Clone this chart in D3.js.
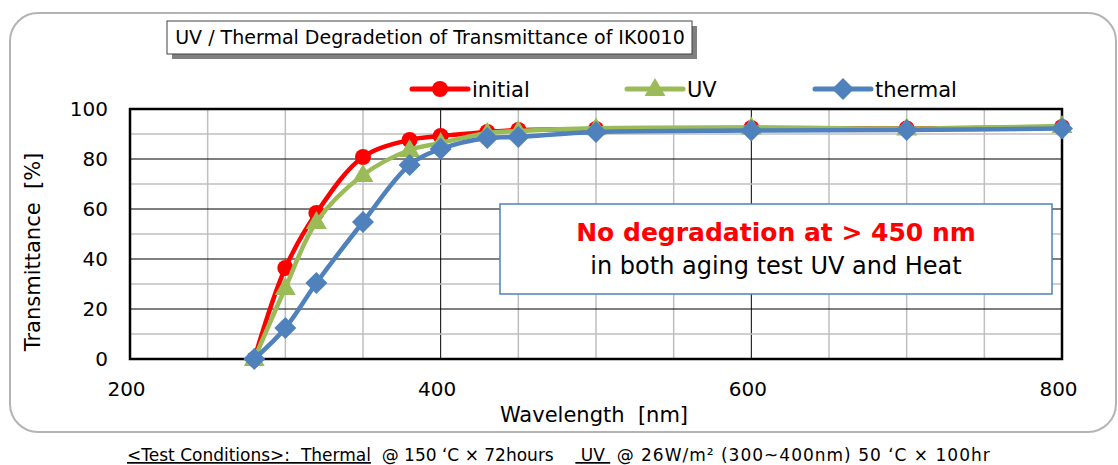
<!DOCTYPE html>
<html lang="en">
<head>
<meta charset="utf-8">
<title>UV / Thermal Degradetion of Transmittance of IK0010</title>
<script src="https://cdn.jsdelivr.net/npm/d3@7"></script>
<style>
  body { margin: 0; background: #fff; }
  text { font-family: "DejaVu Sans", Verdana, sans-serif; }
</style>
</head>
<body>
<script>
// wavelength [nm]
var wavelength = [280, 300, 320, 350, 380, 400, 430, 450, 500, 600, 700, 800];
// transmittance [%]
var initial = [0, 36.4, 58.4, 80.8, 87.6, 89.2, 90.8, 91.6, 92.0, 92.4, 92.2, 92.8];
var uv      = [0, 28.4, 54.8, 73.6, 83.6, 86.4, 90.4, 91.2, 92.3, 92.6, 92.2, 93.2];
var thermal = [0, 12.4, 30.4, 54.8, 77.6, 84.0, 88.4, 88.8, 90.8, 91.4, 91.6, 92.2];

var xTicks = [200, 400, 600, 800];
var yTicks = [0, 20, 40, 60, 80, 100];

var series = [
  { name: "initial", values: initial, color: "#ff0000", marker: "circle" },
  { name: "UV", values: uv, color: "#9bbb59", marker: "triangle" },
  { name: "thermal", values: thermal, color: "#4f81bd", marker: "diamond" }
];

var w = 1118, h = 465;
var plot = { left: 130, right: 1062, top: 109, bottom: 359 };

var svg = d3.select("body").append("svg")
  .attr("width", w)
  .attr("height", h);

// outer frame
svg.append("rect")
  .attr("x", 10).attr("y", 13)
  .attr("width", 1106).attr("height", 419)
  .attr("rx", 28).attr("ry", 28)
  .attr("fill", "#fff")
  .attr("stroke", "#b4b4b4")
  .attr("stroke-width", 2);

var x = d3.scaleLinear().domain([200, 800]).range([plot.left, plot.right]);
var y = d3.scaleLinear().domain([0, 100]).range([plot.bottom, plot.top]);

// gridlines
var grid = svg.append("g");
grid.selectAll("line.vx")
  .data(d3.range(250, 800, 50))
  .enter().append("line")
  .attr("x1", d => x(d)).attr("x2", d => x(d))
  .attr("y1", plot.top).attr("y2", plot.bottom)
  .attr("stroke", d => d % 200 === 0 ? "#000" : "#bfbfbf")
  .attr("stroke-width", d => d % 200 === 0 ? 1 : 1.5);
grid.selectAll("line.hy")
  .data(d3.range(10, 100, 10))
  .enter().append("line")
  .attr("x1", plot.left).attr("x2", plot.right)
  .attr("y1", d => y(d)).attr("y2", d => y(d))
  .attr("stroke", d => d % 20 === 0 ? "#000" : "#bfbfbf")
  .attr("stroke-width", d => d % 20 === 0 ? 1 : 1.5);

// plot border
svg.append("rect")
  .attr("x", plot.left).attr("y", plot.top)
  .attr("width", plot.right - plot.left)
  .attr("height", plot.bottom - plot.top)
  .attr("fill", "none")
  .attr("stroke", "#000")
  .attr("stroke-width", 2.5);

// axes (labels only)
var xAxis = svg.append("g")
  .attr("transform", "translate(-4," + plot.bottom + ")")
  .call(d3.axisBottom(x).tickValues(xTicks).tickSize(0).tickPadding(23));
var yAxis = svg.append("g")
  .attr("transform", "translate(" + plot.left + ",0)")
  .call(d3.axisLeft(y).tickValues(yTicks).tickSize(0).tickPadding(22));
[xAxis, yAxis].forEach(function(a) {
  a.select(".domain").remove();
  a.selectAll("text")
    .style("font-family", "'DejaVu Sans', Verdana, sans-serif")
    .style("font-size", "20px")
    .style("fill", "#000");
});

svg.append("text")
  .attr("x", 594).attr("y", 422)
  .attr("text-anchor", "middle")
  .attr("xml:space", "preserve")
  .style("font-size", "21px")
  .text("Wavelength  [nm]");

svg.append("text")
  .attr("transform", "translate(40,252) rotate(-90)")
  .attr("text-anchor", "middle")
  .attr("xml:space", "preserve")
  .style("font-size", "21px")
  .text("Transmittance  [%]");

// lines and markers
var line = d3.line()
  .x(d => x(d[0]))
  .y(d => y(d[1]))
  .curve(d3.curveCatmullRom.alpha(0.5));

function drawMarker(g, type, color, cx, cy) {
  if (type === "circle") {
    g.append("circle").attr("cx", cx).attr("cy", cy).attr("r", 8).attr("fill", color);
  } else if (type === "triangle") {
    g.append("path")
      .attr("d", d3.symbol().type(d3.symbolTriangle).size(190)())
      .attr("transform", "translate(" + cx + "," + (cy + 1) + ")")
      .attr("fill", color);
  } else {
    g.append("path")
      .attr("d", "M0,-11L11,0L0,11L-11,0Z")
      .attr("transform", "translate(" + cx + "," + cy + ")")
      .attr("fill", color);
  }
}

series.forEach(function(s) {
  var pts = wavelength.map((wl, i) => [wl, s.values[i]]);
  var g = svg.append("g");
  g.append("path")
    .datum(pts)
    .attr("d", line)
    .attr("fill", "none")
    .attr("stroke", s.color)
    .attr("stroke-width", 4.5)
    .attr("stroke-linejoin", "round");
  pts.forEach(p => drawMarker(g, s.marker, s.color, x(p[0]), y(p[1])));
});

// legend
var legendX = [412, 627, 815];
series.forEach(function(s, i) {
  var g = svg.append("g").attr("transform", "translate(" + legendX[i] + ",89)");
  g.append("line")
    .attr("x1", 0).attr("x2", 56)
    .attr("stroke", s.color).attr("stroke-width", 5)
    .attr("stroke-linecap", "round");
  drawMarker(g, s.marker, s.color, 28, 0);
  g.append("text")
    .attr("x", 60).attr("y", 8)
    .style("font-size", "21px")
    .style("fill", "#000")
    .text(s.name);
});

// title box
svg.append("rect")
  .attr("x", 172).attr("y", 26)
  .attr("width", 525).attr("height", 33)
  .attr("fill", "#808080");
svg.append("rect")
  .attr("x", 167).attr("y", 21)
  .attr("width", 525).attr("height", 33)
  .attr("fill", "#fff")
  .attr("stroke", "#404040")
  .attr("stroke-width", 1);
svg.append("text")
  .attr("x", 430).attr("y", 44)
  .attr("text-anchor", "middle")
  .style("font-size", "19px")
  .style("fill", "#000")
  .text("UV / Thermal Degradetion of Transmittance of IK0010");

// annotation box
svg.append("rect")
  .attr("x", 500).attr("y", 204)
  .attr("width", 552).attr("height", 90)
  .attr("fill", "#fff")
  .attr("stroke", "#4f81bd")
  .attr("stroke-width", 1.5);
svg.append("text")
  .attr("x", 776).attr("y", 241)
  .attr("text-anchor", "middle")
  .style("font-size", "25px")
  .style("font-weight", "bold")
  .style("fill", "#ff0000")
  .text("No degradation at > 450 nm");
svg.append("text")
  .attr("x", 776).attr("y", 274)
  .attr("text-anchor", "middle")
  .style("font-size", "24px")
  .style("fill", "#000")
  .text("in both aging test UV and Heat");

// test conditions
var note = svg.append("text")
  .attr("x", 127).attr("y", 461)
  .style("font-size", "17px")
  .style("fill", "#000")
  .attr("xml:space", "preserve");
note.append("tspan").style("text-decoration", "underline").text("<Test Conditions>:  Thermal");
note.append("tspan").text("  @ 150 ʻC × 72hours    ");
note.append("tspan").style("text-decoration", "underline").text(" UV ");
note.append("tspan").style("letter-spacing", "1px").text(" @ 26W/m² (300~400nm) 50 ʻC × 100hr");
</script>
</body>
</html>
